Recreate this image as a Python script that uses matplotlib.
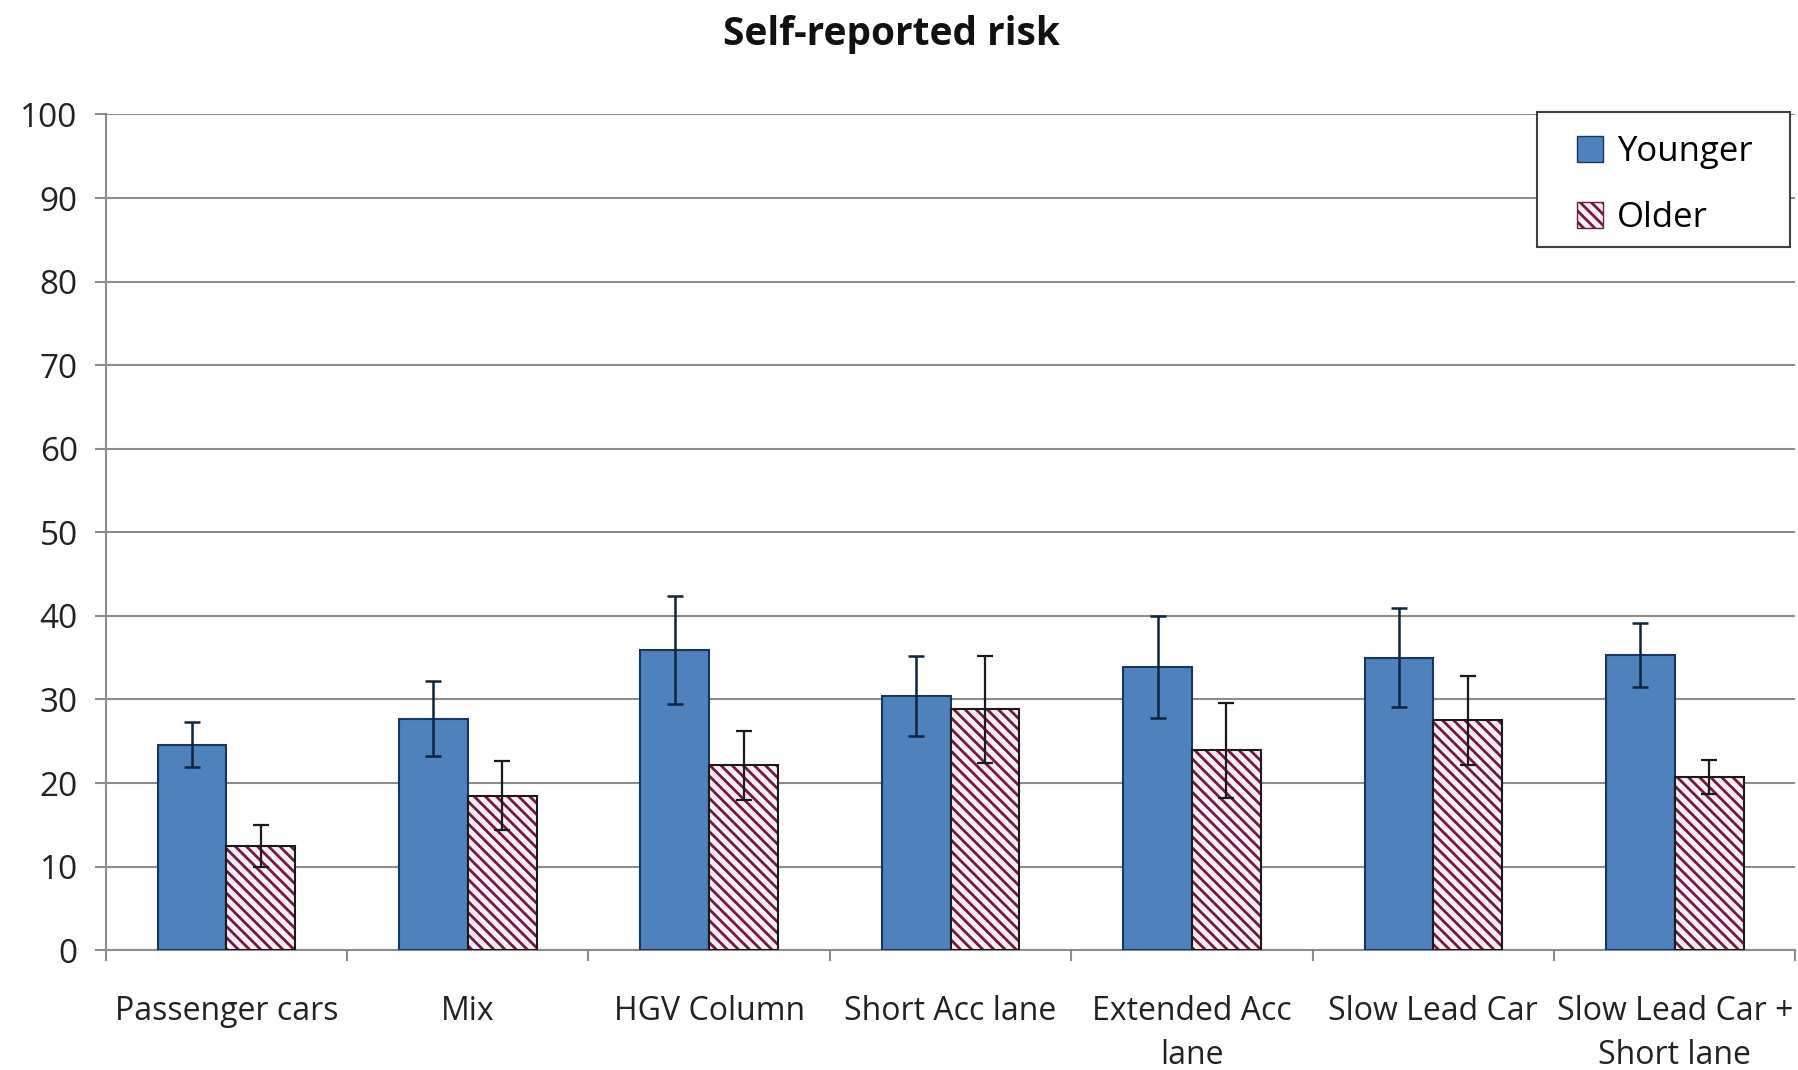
import matplotlib
matplotlib.use("Agg")
import matplotlib.pyplot as plt
import numpy as np
from matplotlib.patches import Patch, Rectangle

plt.rcParams['font.family'] = ['Open Sans', 'DejaVu Sans']
plt.rcParams['hatch.linewidth'] = 2.0

categories = ["Passenger cars", "Mix", "HGV Column", "Short Acc lane",
              "Extended Acc\nlane", "Slow Lead Car", "Slow Lead Car +\nShort lane"]
younger = [24.6, 27.7, 35.9, 30.4, 33.9, 35.0, 35.3]
younger_err = [2.7, 4.5, 6.5, 4.8, 6.1, 5.9, 3.8]
older = [12.5, 18.5, 22.1, 28.8, 23.9, 27.5, 20.7]
older_err = [2.5, 4.1, 4.1, 6.4, 5.7, 5.3, 2.0]
yticks = [0, 10, 20, 30, 40, 50, 60, 70, 80, 90, 100]

fig = plt.figure(figsize=(17.99, 10.70), dpi=100)
ax = fig.add_axes([0.0587, 0.112, 0.9393, 0.781])

x = np.arange(len(categories))
w = 0.285
blue = "#4F81BD"
hatch_col = "#6e1a44"
pink = "#fdeef4"
ax.bar(x - w/2, younger, w, color=blue, edgecolor="#17375E", linewidth=1.5, zorder=3)
ax.errorbar(x - w/2, younger, yerr=younger_err, fmt="none", ecolor="#0F243E",
            elinewidth=1.8, capsize=6, capthick=1.8, zorder=5)

# older: hatched in maroon, dark outline
ax.bar(x + w/2, older, w, color=pink, edgecolor=hatch_col, hatch="\\\\\\",
       linewidth=0, zorder=3)
ax.bar(x + w/2, older, w, color="none", edgecolor="#1a1a1a", linewidth=1.5, zorder=4)
ax.errorbar(x + w/2, older, yerr=older_err, fmt="none", ecolor="#1a1a1a",
            elinewidth=1.6, capsize=6, capthick=1.6, zorder=5)

ax.set_xlim(-0.5, len(categories) - 0.5)
ax.set_ylim(0, 100)
ax.set_yticks(yticks)
ax.set_yticklabels([str(t) for t in yticks], fontsize=24, color="#222222")
ax.yaxis.grid(True, color="#8c8c8c", linewidth=1.5, zorder=0)
ax.set_axisbelow(True)

ax.set_xticks(x)
ax.set_xticklabels(categories, fontsize=23, color="#222222", linespacing=1.45)
ax.tick_params(axis="x", length=0, pad=32)
ax.set_xticks(np.arange(len(categories) + 1) - 0.5, minor=True)
ax.tick_params(axis="x", which="minor", length=8, color="#8c8c8c", width=1.5)
ax.tick_params(axis="y", length=8, color="#8c8c8c", width=1.5, pad=12)

for s in ["top", "right"]:
    ax.spines[s].set_visible(False)
for s in ["left", "bottom"]:
    ax.spines[s].set_color("#8c8c8c")
    ax.spines[s].set_linewidth(1.5)

fig.text(0.4955, 0.968, "Self-reported risk", ha="center", va="center",
         fontsize=28, fontweight="bold", color="#111111")

# legend frame drawn as a rectangle in figure coordinates
lx0, lx1, ly0, ly1 = 0.8544, 0.995, 0.7692, 0.8953
fig.patches.append(Rectangle((lx0, ly0), lx1 - lx0, ly1 - ly0, transform=fig.transFigure,
                             facecolor="white", edgecolor="#404040", linewidth=1.5,
                             zorder=10))
handles = [Patch(facecolor=blue, edgecolor="#17375E", label="Younger"),
           Patch(facecolor=pink, edgecolor=hatch_col, hatch="\\\\\\", label="Older")]
leg = fig.legend(handles=handles, loc="center",
                 bbox_to_anchor=((lx0 + lx1) / 2 + 0.0006, (ly0 + ly1) / 2 - 0.0054),
                 fontsize=25, frameon=False,
                 handlelength=0.75, handleheight=0.75, handletextpad=0.4,
                 borderpad=0.0, labelspacing=0.92)
leg.set_zorder(11)

fig.savefig("out.png", dpi=100, facecolor="white")
